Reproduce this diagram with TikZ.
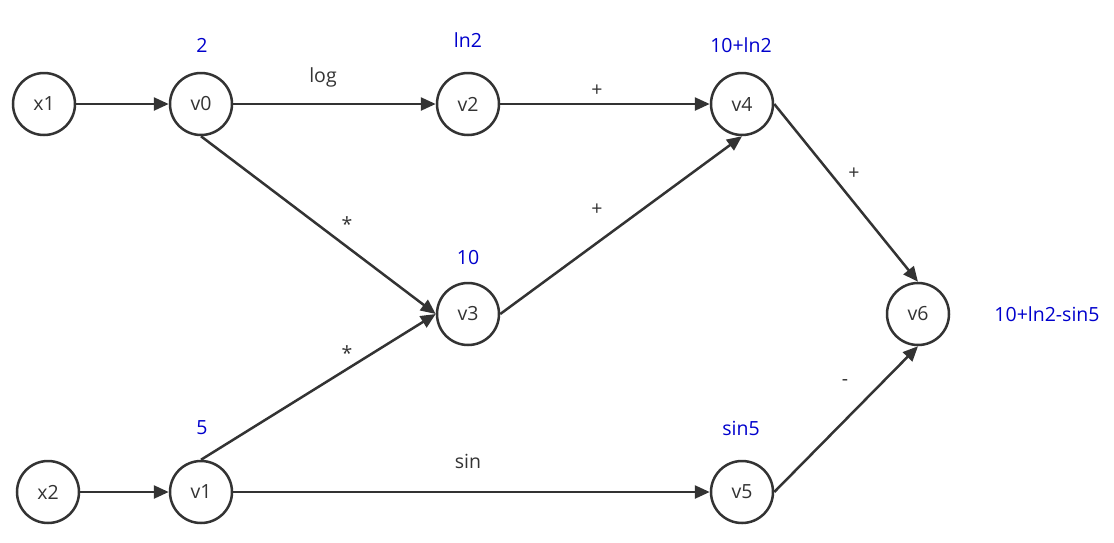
\documentclass[tikz,border=0pt]{standalone}
\usepackage{fontspec}
\setmainfont{Open Sans}
\usetikzlibrary{arrows.meta}
\definecolor{ink}{HTML}{333333}
\definecolor{val}{HTML}{0000CC}
\tikzset{
  vert/.style={circle,draw=ink,line width=2.5pt,minimum size=62pt,inner sep=0pt,text=ink,font=\fontsize{19.5}{22}\selectfont},
  edge/.style={draw=ink,line width=2.5pt,-{Triangle[length=15pt,width=13pt]}},
  vlab/.style={text=val,font=\fontsize{19.5}{22}\selectfont},
  elab/.style={text=ink,font=\fontsize{19.5}{22}\selectfont}
}
\begin{document}
\begin{tikzpicture}[x=1pt,y=-1pt]
\useasboundingbox (0,0) rectangle (1114,542);
\node[vert] (x1) at (44,104) {x1};
\node[vert] (v0) at (201,104) {v0};
\node[vert] (v2) at (468,104) {v2};
\node[vert] (v4) at (742,104) {v4};
\node[vert] (v3) at (468,314) {v3};
\node[vert] (v6) at (918,314) {v6};
\node[vert] (x2) at (48,492) {x2};
\node[vert] (v1) at (201,492) {v1};
\node[vert] (v5) at (742,492) {v5};

\node[vlab] (l0) at (202,45) {2};
\node[vlab] (l2) at (468,40) {ln2};
\node[vlab] (l4) at (741,45) {10+ln2};
\node[vlab] (l3) at (468,258) {10};
\node[vlab] (l6) at (1047,314) {10+ln2-sin5};
\node[vlab] (l1) at (202,428) {5};
\node[vlab] (l5) at (741,428) {sin5};

\draw[edge] (x1) -- (v0);
\draw[edge] (v0) -- (v2);
\draw[edge] (v2) -- (v4);
\draw[edge] (v0.south) -- (v3.west);
\draw[edge] (v1.north) -- (v3.west);
\draw[edge] (v3.east) -- (v4.south);
\draw[edge] (v4.east) -- (v6.north);
\draw[edge] (v5.east) -- (v6.south);
\draw[edge] (x2) -- (v1);
\draw[edge] (v1) -- (v5);

\node[elab] (e1) at (323,77) {log};
\node[elab] (e2) at (597,91) {+};
\node[elab] (e3) at (347,224) {*};
\node[elab] (e4) at (597,210) {+};
\node[elab] (e5) at (854,174) {+};
\node[elab] (e6) at (347,353) {*};
\node[elab] (e7) at (468,461) {sin};
\node[elab] (e8) at (845,383) {-};
\end{tikzpicture}
\end{document}
